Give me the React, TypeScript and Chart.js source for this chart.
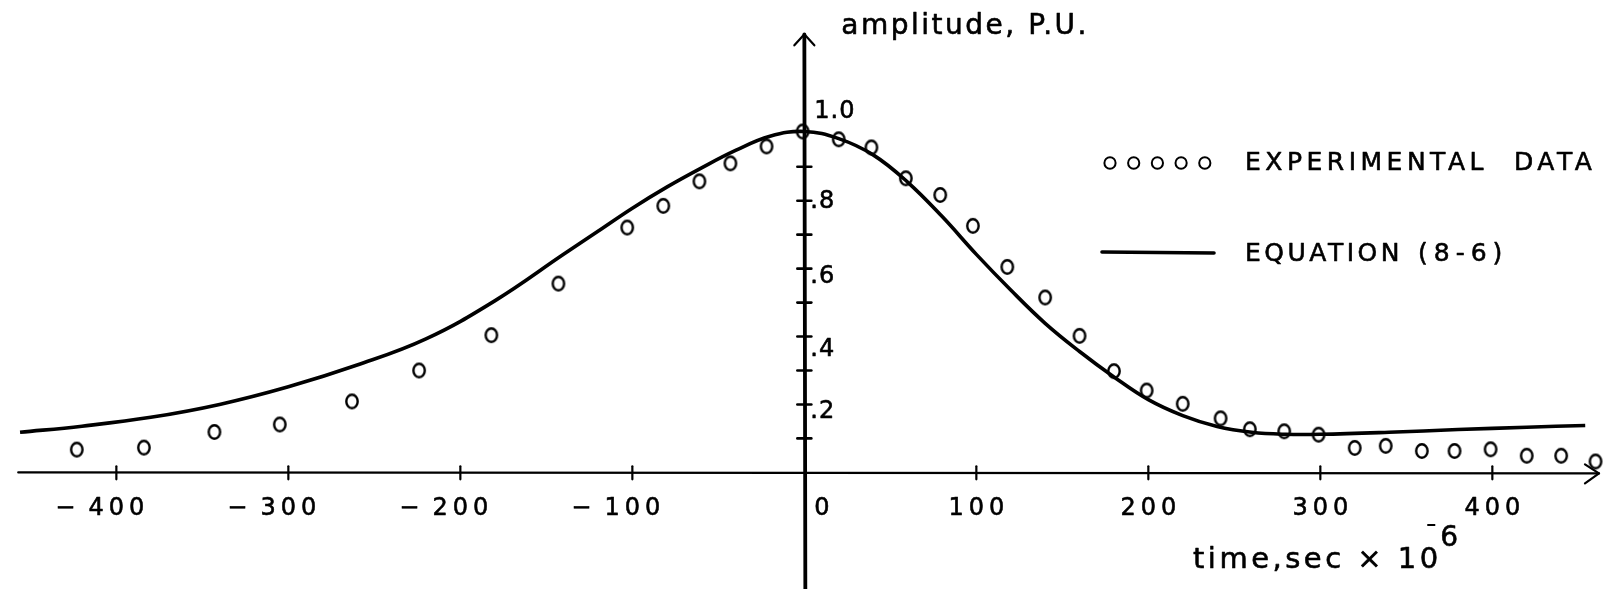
import { useEffect, useRef } from "react";
import Chart from "chart.js/auto";

// Experimental points: time (µs) and amplitude (per unit)
const expTime = [-423, -384, -343, -305, -263, -224, -182, -143, -103, -82, -61, -43, -22, -1, 20, 39, 59, 79, 98, 118, 140, 160, 180, 199, 220, 242, 259, 279, 299, 320, 338, 359, 378, 399, 420, 440, 460];
const expAmp = [0.067, 0.073, 0.119, 0.141, 0.209, 0.3, 0.404, 0.556, 0.721, 0.785, 0.857, 0.91, 0.96, 1.004, 0.981, 0.957, 0.866, 0.817, 0.726, 0.605, 0.515, 0.402, 0.298, 0.241, 0.202, 0.159, 0.127, 0.121, 0.111, 0.072, 0.078, 0.063, 0.063, 0.068, 0.049, 0.049, 0.032];

// Curve given by equation (8-6)
const eqTime = [-456, -420, -380, -340, -300, -260, -220, -180, -140, -120, -100, -80, -60, -40, -20, 0, 20, 40, 60, 80, 100, 120, 140, 160, 180, 200, 220, 240, 260, 280, 300, 340, 380, 420, 454];
const eqAmp = [0.118, 0.136, 0.162, 0.2, 0.252, 0.316, 0.393, 0.505, 0.642, 0.71, 0.778, 0.84, 0.896, 0.948, 0.99, 1.004, 0.983, 0.935, 0.855, 0.754, 0.642, 0.537, 0.439, 0.356, 0.281, 0.214, 0.167, 0.135, 0.118, 0.112, 0.112, 0.118, 0.126, 0.133, 0.138];

// Axis ticks and labels
const xTickValues = [-400, -300, -200, -100, 100, 200, 300, 400];
const xTickLabels = ["400", "300", "200", "100", "100", "200", "300", "400"];
const yTickValues = [0.1, 0.2, 0.3, 0.4, 0.5, 0.6, 0.7, 0.8, 0.9];
const yLabelValues = [0.2, 0.4, 0.6, 0.8, 1.0];
const yLabels = [".2", ".4", ".6", ".8", "1.0"];

// lettering nudges (px) for the amplitude labels
const yLabelNudge = [7, 13, 8, 1, -21];

const xRange = { min: -463, max: 465.5, axisStart: -457, axisEnd: 462 };
const yRange = { min: -0.32, max: 1.3676, arrowTip: 1.29 };

const FONT = '"DejaVu Sans", sans-serif';

// slightly tall hand-drawn ring used for the experimental points
function makeRing(): HTMLCanvasElement {
  const c = document.createElement("canvas");
  c.width = 18;
  c.height = 20;
  const g = c.getContext("2d")!;
  g.strokeStyle = "#000";
  g.lineWidth = 2.4;
  g.beginPath();
  g.ellipse(9, 10, 5.7, 6.7, 0, 0, Math.PI * 2);
  g.stroke();
  return c;
}

// lettering with a slightly heavier pen
function letter(ctx: CanvasRenderingContext2D, text: string, x: number, y: number) {
  ctx.fillText(text, x, y);
  ctx.strokeText(text, x, y);
}

const handAxes = {
  id: "handAxes",
  beforeDatasetsDraw(chart: any) {
    const { ctx } = chart;
    const xs = chart.scales.x;
    const ys = chart.scales.y;
    const x0 = xs.getPixelForValue(0);
    const y0 = ys.getPixelForValue(0);
    ctx.save();
    ctx.strokeStyle = "#000";
    ctx.fillStyle = "#000";
    ctx.lineCap = "round";
    ctx.lineJoin = "round";

    // horizontal time axis with arrow
    const xa = xs.getPixelForValue(xRange.axisStart);
    const xb = xs.getPixelForValue(xRange.axisEnd);
    ctx.lineWidth = 2.4;
    ctx.beginPath();
    ctx.moveTo(xa, y0);
    ctx.lineTo(xb, y0 + 1);
    ctx.stroke();
    ctx.lineWidth = 2.2;
    ctx.beginPath();
    ctx.moveTo(xb - 14, y0 - 8);
    ctx.lineTo(xb, y0 + 1);
    ctx.lineTo(xb - 14, y0 + 11);
    ctx.stroke();

    // vertical amplitude axis with arrow
    const yt = ys.getPixelForValue(yRange.arrowTip);
    ctx.lineWidth = 3.8;
    ctx.beginPath();
    ctx.moveTo(x0, yt);
    ctx.lineTo(x0 + 1, chart.height + 2);
    ctx.stroke();
    ctx.lineWidth = 2.2;
    ctx.beginPath();
    ctx.moveTo(x0 - 10, yt + 11);
    ctx.lineTo(x0, yt);
    ctx.lineTo(x0 + 10, yt + 11);
    ctx.stroke();

    // tick marks
    ctx.lineWidth = 2.2;
    xTickValues.forEach((v) => {
      const px = xs.getPixelForValue(v);
      ctx.beginPath();
      ctx.moveTo(px, y0 - 6);
      ctx.lineTo(px, y0 + 7);
      ctx.stroke();
    });
    ctx.lineWidth = 2.6;
    yTickValues.forEach((v) => {
      const py = ys.getPixelForValue(v);
      ctx.beginPath();
      ctx.moveTo(x0 - 7, py);
      ctx.lineTo(x0 + 7, py);
      ctx.stroke();
    });

    // tick labels
    ctx.lineWidth = 0.6;
    ctx.font = `24px ${FONT}`;
    ctx.textBaseline = "middle";
    ctx.letterSpacing = "5px";
    const labelY = y0 + 36;
    xTickValues.forEach((v, i) => {
      const px = xs.getPixelForValue(v);
      const text = xTickLabels[i];
      const w = ctx.measureText(text).width - 5;
      ctx.textAlign = "left";
      letter(ctx, text, px - w / 2, labelY);
      if (v < 0) {
        ctx.textAlign = "right";
        letter(ctx, "\u2212", px - w / 2 - 8, labelY);
      }
    });
    ctx.textAlign = "left";
    letter(ctx, "0", x0 + 10, labelY);

    ctx.letterSpacing = "1px";
    yLabelValues.forEach((v, i) => {
      const py = ys.getPixelForValue(v);
      letter(ctx, yLabels[i], yLabels[i] === "1.0" ? x0 + 10 : x0 + 6, py + yLabelNudge[i]);
    });

    // axis titles
    ctx.textBaseline = "alphabetic";
    ctx.font = `28px ${FONT}`;
    ctx.letterSpacing = "2.5px";
    letter(ctx, "amplitude, P.U.", x0 + 37, 34);

    ctx.font = `29px ${FONT}`;
    ctx.letterSpacing = "3.5px";
    const tx = 1193;
    const base = "time,sec \u00d7 10";
    letter(ctx, base, tx, 568);
    const tw = ctx.measureText(base).width - 3.5;
    ctx.letterSpacing = "0px";
    ctx.save();
    ctx.lineWidth = 2;
    ctx.lineCap = "butt";
    ctx.beginPath();
    ctx.moveTo(tx + tw - 11, 525);
    ctx.lineTo(tx + tw - 3, 525);
    ctx.stroke();
    ctx.restore();
    ctx.font = `28px ${FONT}`;
    letter(ctx, "6", tx + tw + 2, 546);

    // legend
    const legX = 1245;
    ctx.font = `25px ${FONT}`;
    ctx.letterSpacing = "4.5px";
    ctx.textBaseline = "middle";
    letter(ctx, "EXPERIMENTAL", legX, 163);
    letter(ctx, "DATA", 1514, 163);
    ctx.letterSpacing = "3.5px";
    letter(ctx, "EQUATION", legX, 254);
    ctx.letterSpacing = "6px";
    letter(ctx, "(8-6)", 1418, 254);

    ctx.lineWidth = 2;
    for (let k = 0; k < 5; k++) {
      ctx.beginPath();
      ctx.ellipse(1110 + k * 23.7, 163, 5.6, 5.8, 0, 0, Math.PI * 2);
      ctx.stroke();
    }
    ctx.lineWidth = 3.6;
    ctx.beginPath();
    ctx.moveTo(1102, 252);
    ctx.lineTo(1214, 253);
    ctx.stroke();

    ctx.restore();
  },
};

export default function App() {
  const canvasRef = useRef<HTMLCanvasElement | null>(null);

  useEffect(() => {
    document.body.style.margin = "0";
    const canvas = canvasRef.current;
    if (!canvas) return;
    const ring = makeRing();
    const chart = new Chart(canvas, {
      type: "scatter",
      data: {
        datasets: [
          {
            label: "EQUATION (8-6)",
            data: eqTime.map((t, i) => ({ x: t, y: eqAmp[i] })),
            showLine: true,
            borderColor: "#000",
            borderWidth: 3.6,
            pointRadius: 0,
            tension: 0.4,
            order: 2,
          },
          {
            label: "EXPERIMENTAL DATA",
            data: expTime.map((t, i) => ({ x: t, y: expAmp[i] })),
            showLine: false,
            pointStyle: ring,
            pointRadius: 7,
            order: 1,
          },
        ],
      },
      options: {
        animation: false,
        responsive: false,
        devicePixelRatio: 1,
        layout: { padding: 0 },
        plugins: { legend: { display: false }, tooltip: { enabled: false } },
        events: [],
        scales: {
          x: { type: "linear", min: xRange.min, max: xRange.max, display: false },
          y: { type: "linear", min: yRange.min, max: yRange.max, display: false },
        },
      },
      plugins: [handAxes],
    });
    return () => chart.destroy();
  }, []);

  return (
    <div style={{ position: "fixed", left: 0, top: 0, width: 1613, height: 589, background: "#fff" }}>
      <canvas ref={canvasRef} width={1613} height={589} style={{ display: "block" }} />
    </div>
  );
}
